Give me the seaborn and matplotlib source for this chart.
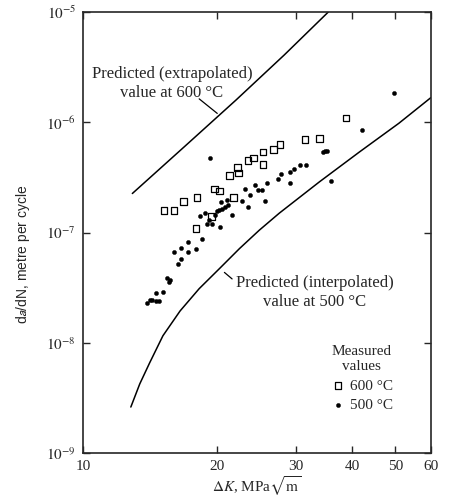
import matplotlib
matplotlib.use("Agg")
import matplotlib.pyplot as plt
import pandas as pd
import seaborn as sns
from matplotlib.ticker import NullLocator

# measured values at 600 C (open squares)
dk_600 = [15.2, 16.0, 16.8, 18.0, 17.9, 19.4, 19.7, 20.2, 21.3, 21.7, 22.2,
          22.3, 23.4, 24.1, 25.3, 25.3, 26.7, 27.6, 31.4, 33.8, 38.8]
rate_600 = [1.58e-7, 1.58e-7, 1.91e-7, 2.08e-7, 1.09e-7, 1.40e-7, 2.49e-7,
            2.38e-7, 3.30e-7, 2.08e-7, 3.87e-7, 3.48e-7, 4.52e-7, 4.74e-7,
            5.37e-7, 4.13e-7, 5.65e-7, 6.27e-7, 7.01e-7, 7.15e-7, 1.09e-6]

# measured values at 500 C (filled dots)
dk_500 = [13.9, 14.1, 14.3, 14.55, 14.8, 14.6, 15.1, 15.4, 15.55, 15.7, 16.3,
          16.6, 16.0, 16.6, 17.2, 17.9, 17.2, 18.5,
          18.3, 18.8, 18.95, 19.4, 19.15, 19.7, 19.9, 20.2, 20.5, 20.8, 21.1,
          20.4, 21.0, 21.6, 20.3, 22.7, 23.4,
          23.0, 23.65, 24.3, 24.6, 25.15, 25.5, 25.8, 27.3, 27.7, 29.1, 29.1,
          29.7, 30.6, 31.6, 34.5, 34.8, 35.1, 35.85, 42.0, 49.6, 19.2]
rate_500 = [2.31e-8, 2.43e-8, 2.43e-8, 2.38e-8, 2.38e-8, 2.85e-8, 2.91e-8,
            3.90e-8, 3.53e-8, 3.74e-8, 5.19e-8, 5.77e-8, 6.72e-8, 7.20e-8,
            6.62e-8, 7.08e-8, 8.28e-8, 8.82e-8,
            1.40e-7, 1.52e-7, 1.20e-7, 1.20e-7, 1.30e-7, 1.43e-7, 1.57e-7,
            1.61e-7, 1.64e-7, 1.71e-7, 1.78e-7, 1.91e-7, 1.97e-7, 1.43e-7,
            1.12e-7, 1.95e-7, 1.72e-7,
            2.50e-7, 2.20e-7, 2.71e-7, 2.41e-7, 2.41e-7, 1.93e-7, 2.81e-7,
            3.08e-7, 3.39e-7, 2.81e-7, 3.53e-7, 3.79e-7, 4.06e-7, 4.06e-7,
            5.37e-7, 5.45e-7, 5.53e-7, 2.94e-7, 8.46e-7, 1.85e-6, 4.71e-7]

# predicted curves
dk_pred_600 = [12.9, 16.9, 22.0, 28.2, 35.4]
rate_pred_600 = [2.26e-7, 6.05e-7, 1.59e-6, 4.07e-6, 1.0e-5]
dk_pred_500 = [12.8, 13.4, 14.1, 15.1, 16.5, 18.2, 20.2, 22.4, 24.8, 27.5,
               33.8, 41.5, 50.9, 60.0]
rate_pred_500 = [2.62e-9, 4.24e-9, 6.58e-9, 1.16e-8, 1.95e-8, 3.10e-8,
                 4.71e-8, 7.16e-8, 1.05e-7, 1.50e-7, 2.88e-7, 5.36e-7,
                 9.79e-7, 1.67e-6]

x_ticks = [10, 20, 30, 40, 50, 60]
y_ticks = [1e-9, 1e-8, 1e-7, 1e-6, 1e-5]
y_tick_labels = [r"$10^{-9}$", r"$10^{-8}$", r"$10^{-7}$", r"$10^{-6}$", r"$10^{-5}$"]

sns.set_style("ticks")
plt.rcParams["font.family"] = ["Liberation Serif", "DejaVu Serif"]
plt.rcParams["mathtext.fontset"] = "stix"

fig, ax = plt.subplots(figsize=(4.53, 4.98), dpi=100)
fig.subplots_adjust(left=0.183, right=0.951, top=0.976, bottom=0.090)

sns.lineplot(x=dk_pred_600, y=rate_pred_600, ax=ax, color="black", lw=1.1,
             sort=False, estimator=None)
sns.lineplot(x=dk_pred_500, y=rate_pred_500, ax=ax, color="black", lw=1.1,
             sort=False, estimator=None)

df600 = pd.DataFrame({"dk": dk_600, "rate": rate_600})
df500 = pd.DataFrame({"dk": dk_500, "rate": rate_500})
sns.scatterplot(data=df600, x="dk", y="rate", ax=ax, marker="s", s=22,
                facecolor="none", edgecolor="black", linewidth=0.9,
                label="600 °C")
sns.scatterplot(data=df500, x="dk", y="rate", ax=ax, marker="o", s=9,
                color="black", edgecolor="black", linewidth=0.3,
                label="500 °C")

ax.set_xscale("log")
ax.set_yscale("log")
ax.set_xlim(10, 60)
ax.set_ylim(1e-9, 1e-5)
ax.set_xticks(x_ticks)
ax.set_xticklabels([str(t) for t in x_ticks])
ax.set_yticks(y_ticks)
ax.set_yticklabels(y_tick_labels)
ax.xaxis.set_minor_locator(NullLocator())
ax.yaxis.set_minor_locator(NullLocator())
ax.tick_params(which="both", direction="in", top=True, right=True,
               length=5, width=1, labelsize=11, pad=5)
for sp in ax.spines.values():
    sp.set_linewidth(1.2)

ax.set_xlabel(r"$\Delta K$, MPa$\sqrt{\mathrm{m}}$", fontsize=11, labelpad=1)
ax.set_ylabel(r"d$a$/dN, metre per cycle", fontsize=10,
              family=["Liberation Sans", "DejaVu Sans"],
              math_fontfamily="stixsans")
ax.yaxis.set_label_coords(-0.145, 0.45)

ax.text(0.256, 0.838, "Predicted (extrapolated)\nvalue at 600 °C",
        transform=ax.transAxes, ha="center", va="center", fontsize=12,
        multialignment="center", linespacing=1.2)
ax.annotate("", xy=(20.2, 1.16e-6), xytext=(18.0, 1.69e-6),
            arrowprops=dict(arrowstyle="-", color="black", lw=0.9))

ax.text(0.667, 0.364, "Predicted (interpolated)\nvalue at 500 °C",
        transform=ax.transAxes, ha="center", va="center", fontsize=12,
        multialignment="center", linespacing=1.2)
ax.annotate("", xy=(20.5, 4.52e-8), xytext=(21.8, 3.66e-8),
            arrowprops=dict(arrowstyle="-", color="black", lw=0.9))

leg = ax.legend(title="Measured\nvalues", loc="upper left",
                bbox_to_anchor=(0.68, 0.27), frameon=False, fontsize=11,
                title_fontsize=11, handletextpad=0.3, handlelength=1.0,
                borderpad=0.2, labelspacing=0.4)
leg._legend_box.align = "center"
leg.get_title().set_multialignment("center")

fig.savefig("out.png", dpi=100)
